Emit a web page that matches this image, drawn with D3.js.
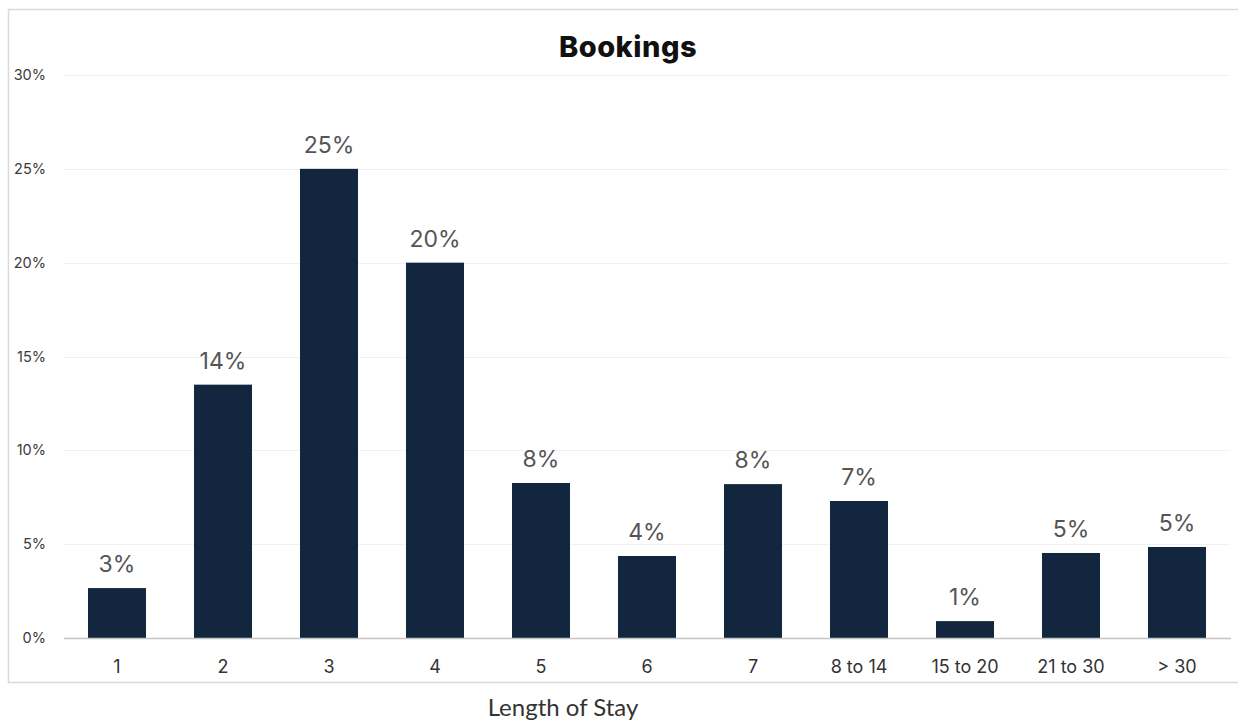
<!DOCTYPE html>
<html><head><meta charset="utf-8">
<script src="https://cdn.jsdelivr.net/npm/d3@7"></script>
<style>body{margin:0;background:#fff}svg{display:block}</style>
</head><body><svg id="c" width="1238" height="722"></svg>
<script>
const categories = ["1","2","3","4","5","6","7","8 to 14","15 to 20","21 to 30","> 30"];
const values = [2.66, 13.5, 25.0, 20.0, 8.26, 4.37, 8.2, 7.3, 0.9, 4.53, 4.85];
const valueLabels = ["3%","14%","25%","20%","8%","4%","8%","7%","1%","5%","5%"];
const yTicks = [0,5,10,15,20,25,30];
const title = "Bookings";
const xTitle = "Length of Stay";

(function(){
const svg = d3.select("#c");
const pL = 64, pR = 1230, pT = 75, pB = 638;
const x = d3.scaleBand().domain(categories).range([pL, pR]).paddingInner(0.453).paddingOuter(0.2265);
const y = d3.scaleLinear().domain([0,30]).range([pB, pT]);

// frame
svg.append("path").attr("d", `M1238,9.5H8.5V682.5H1238`).attr("fill","none").attr("stroke","#dadada").attr("stroke-width",1.5);

// gridlines
svg.append("g").selectAll("line").data(yTicks.filter(d=>d>0)).join("line")
  .attr("x1", pL).attr("x2", pR).attr("y1", d=>Math.round(y(d))+0.5).attr("y2", d=>Math.round(y(d))+0.5)
  .attr("stroke","#f1f1f1").attr("stroke-width",1);

// y labels
const yAxis = d3.axisLeft(y).tickValues(yTicks).tickFormat(d=>d+"%").tickSize(0).tickPadding(0);
const ya = svg.append("g").attr("transform",`translate(46,0)`).call(yAxis);
ya.select(".domain").remove();
ya.selectAll("text").attr("font-family","Inter, sans-serif").attr("font-size",14.5).attr("fill","#3a3a3a");

// bars
svg.append("g").selectAll("rect").data(values).join("rect")
  .attr("x",(d,i)=>x(categories[i])).attr("width",x.bandwidth())
  .attr("y",d=>y(d)).attr("height",d=>y(0)-y(d)).attr("fill","#13263f");

// value labels
svg.append("g").selectAll("text").data(values).join("text")
  .attr("x",(d,i)=>x(categories[i])+x.bandwidth()/2).attr("y",d=>y(d)-16)
  .attr("text-anchor","middle").attr("font-family","Inter, sans-serif").attr("font-size",23)
  .attr("fill","#555").text((d,i)=>valueLabels[i]);

// x axis
const xAxis = d3.axisBottom(x).tickSize(0).tickPadding(0);
const xa = svg.append("g").attr("transform",`translate(0,${pB})`).call(xAxis);
xa.select(".domain").remove();
xa.selectAll("text").attr("dy",null).attr("y",35).attr("font-family","Inter, sans-serif").attr("font-size",18).attr("fill","#333");
svg.append("line").attr("x1",pL).attr("x2",pR+1).attr("y1",pB+0.5).attr("y2",pB+0.5).attr("stroke","#c4c4c4").attr("stroke-width",1.5);

// titles
svg.append("text").attr("x",628).attr("y",57).attr("text-anchor","middle")
  .attr("font-family","Inter, sans-serif").attr("font-weight",800).attr("font-size",29).attr("letter-spacing",0.5).attr("fill","#111").text(title);
svg.append("text").attr("x",563).attr("y",716).attr("text-anchor","middle")
  .attr("font-family","Lato, sans-serif").attr("font-size",24).attr("fill","#333").text(xTitle);
})();
</script></body></html>
